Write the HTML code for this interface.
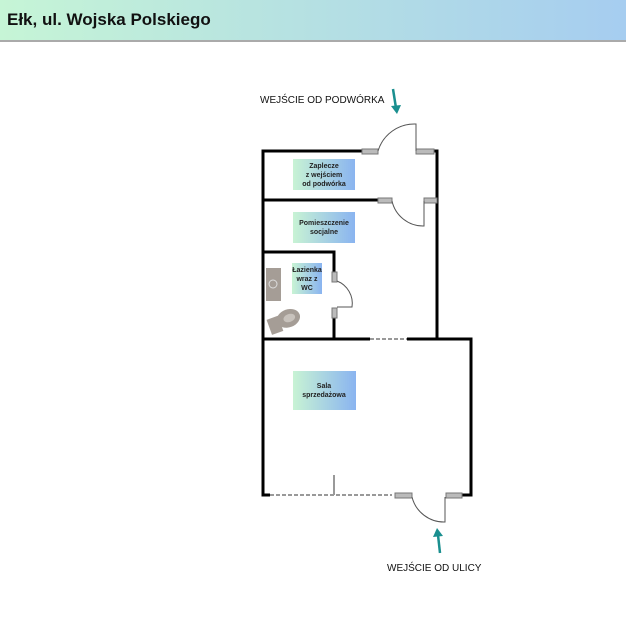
<!DOCTYPE html>
<html><head><style>
body{margin:0;width:626px;height:626px;background:#fff;overflow:hidden;font-family:"Liberation Sans",sans-serif}
.hdr{position:absolute;left:0;top:0;width:626px;height:40px;background:linear-gradient(90deg,#c6f5d6,#b8e4e0 40%,#a6cdf0);border-bottom:2px solid #aaa}
.hdr span{position:absolute;left:7px;top:10px;font-weight:bold;font-size:17px;color:#111}
</style></head><body>
<div class="hdr"><span>Ełk, ul. Wojska Polskiego</span></div>
<svg width="626" height="626" style="position:absolute;left:0;top:0">
<defs>
<linearGradient id="g" x1="0" x2="1"><stop offset="0" stop-color="#c8f3d4"/><stop offset="1" stop-color="#8ab4f0"/></linearGradient>
</defs>
<g stroke="#000" stroke-width="3" fill="none">
<polyline points="362,151 263,151 263,495 270,495"/>
<polyline points="416,151 437,151 437,339"/>
<line x1="263" y1="200" x2="378" y2="200"/>
<polyline points="263,252 334,252 334,272"/>
<line x1="334" y1="318" x2="334" y2="339"/>
<line x1="263" y1="339" x2="370" y2="339"/>
<polyline points="407,339 471,339 471,495 462,495"/>
</g>
<g stroke="#999" stroke-width="2" fill="none">
<line x1="370" y1="339" x2="407" y2="339" stroke-dasharray="4,2"/>
<line x1="270" y1="495" x2="392" y2="495" stroke-dasharray="4,2"/>
<line x1="334" y1="475" x2="334" y2="495"/>
</g>
<g fill="#bbb" stroke="#777" stroke-width="1">
<rect x="362" y="149" width="16" height="5"/>
<rect x="416" y="149" width="18" height="5"/>
<rect x="378" y="198" width="14" height="5"/>
<rect x="424" y="198" width="13" height="5"/>
<rect x="332" y="272" width="5" height="10"/>
<rect x="332" y="308" width="5" height="10"/>
<rect x="395" y="493" width="17" height="5"/>
<rect x="446" y="493" width="16" height="5"/>
</g>
<g stroke="#555" stroke-width="1" fill="none">
<path d="M378,151 A38,38 0 0 1 416,124 L416,151"/>
<path d="M392,201 A32,32 0 0 0 424,226 L424,201"/>
<path d="M337,281 A24,24 0 0 1 352,307 L337,307"/>
<path d="M412,497 A33,33 0 0 0 445,522 L445,497"/>
</g>
<rect x="266" y="268" width="15" height="33" fill="#a59d96"/>
<circle cx="273" cy="284" r="4" fill="none" stroke="#ddd"/>
<g transform="rotate(-20 284 321)" fill="#a59d96"><rect x="268" y="314" width="12" height="16"/><ellipse cx="289" cy="320" rx="12" ry="9"/><ellipse cx="290" cy="320" rx="6" ry="4" fill="#c8c2bc"/></g>
<g font-size="7" font-weight="bold" fill="#222" text-anchor="middle">
<rect x="293" y="159" width="62" height="31" fill="url(#g)"/>
<text x="324" y="168">Zaplecze</text><text x="324" y="177">z wejściem</text><text x="324" y="186">od podwórka</text>
<rect x="293" y="212" width="62" height="31" fill="url(#g)"/>
<text x="324" y="225">Pomieszczenie</text><text x="324" y="234">socjalne</text>
<rect x="292" y="263" width="30" height="31" fill="url(#g)"/>
<text x="307" y="272">Łazienka</text><text x="307" y="281">wraz z</text><text x="307" y="290">WC</text>
<rect x="293" y="371" width="63" height="39" fill="url(#g)"/>
<text x="324" y="388">Sala</text><text x="324" y="397">sprzedażowa</text>
</g>
<g stroke="#1a8f8f" stroke-width="2.5" fill="#1a8f8f">
<line x1="393" y1="89" x2="396" y2="108"/><path d="M391,106 L397,114 L401,105 Z" stroke="none"/>
<line x1="440" y1="553" x2="438" y2="535"/><path d="M433,537 L437,528 L443,536 Z" stroke="none"/>
</g>
<g font-size="10" fill="#111">
<text x="260" y="103">WEJŚCIE OD PODWÓRKA</text>
<text x="387" y="571">WEJŚCIE OD ULICY</text>
</g>
</svg>
</body></html>
